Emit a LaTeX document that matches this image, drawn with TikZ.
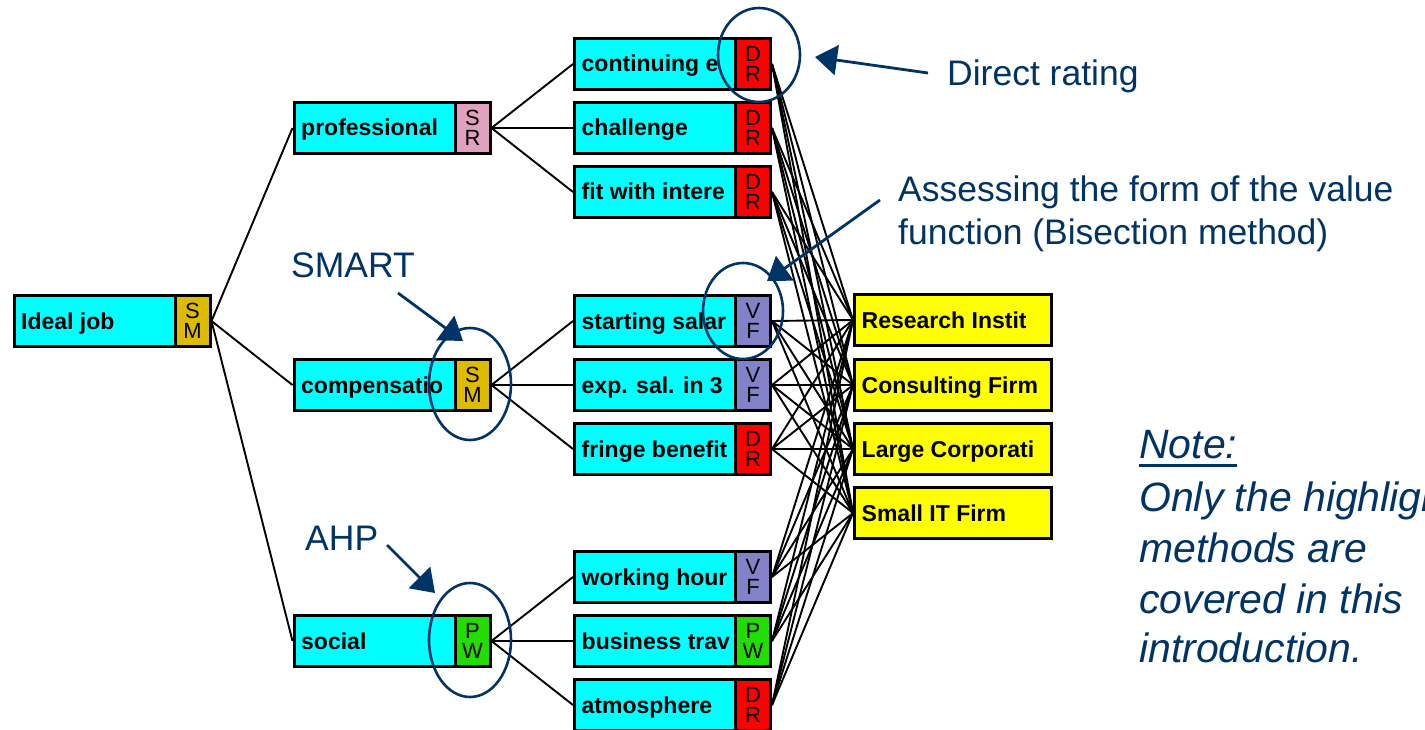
\documentclass[tikz,border=0pt]{standalone}
\usepackage{fontspec}
\setmainfont{Liberation Sans}
\usetikzlibrary{arrows.meta,shapes.geometric,calc}

\definecolor{critcyan}{RGB}{0,255,255}
\definecolor{altyellow}{RGB}{255,255,0}
\definecolor{drred}{RGB}{255,0,0}
\definecolor{smgold}{RGB}{221,187,0}
\definecolor{srpink}{RGB}{224,160,192}
\definecolor{vfblue}{RGB}{130,130,200}
\definecolor{pwgreen}{RGB}{34,221,0}
\definecolor{navy}{RGB}{0,51,102}

\newcommand\lblfont{\fontsize{23}{23}\selectfont\bfseries}
\newcommand\badgefont{\fontsize{22}{20}\selectfont}
\newcommand\annfont{\fontsize{35.5}{40}\selectfont}
\newcommand\notefont{\fontsize{41}{50}\selectfont\itshape}

\pgfdeclarelayer{wires}
\pgfsetlayers{wires,main}

% criterion box: name, centre x, centre y, label, method letters, method colour
\newcommand\critnode[6]{%
  \node[crit] (#1) at (#2,#3) {};
  \node[lbl] (#1-t) at ($(#1.west)+(8.5,8)$) {#4};
  \node[badge, fill=#6] (#1-b) at (#1.east) {#5};
}
% alternative box: name, centre x, centre y, label
\newcommand\altnode[4]{%
  \node[alt] (#1) at (#2,#3) {};
  \node[lbl] (#1-t) at ($(#1.west)+(8.5,8)$) {#4};
}

\begin{document}
\begin{tikzpicture}[x=1pt,y=-1pt,
  crit/.style={draw=black, line width=3pt, fill=critcyan, minimum width=196pt, minimum height=51pt, inner sep=0pt},
  alt/.style={crit, fill=altyellow, minimum width=197pt},
  badge/.style={draw=black, line width=3pt, minimum width=35pt, minimum height=51pt, inner sep=0pt, anchor=east, align=center, font=\badgefont},
  lbl/.style={anchor=base west, inner sep=0pt, font=\lblfont},
  wire/.style={draw=black, line width=1.9pt},
  ring/.style={ellipse, draw=navy, line width=2.6pt, inner sep=0pt},
  pointer/.style={draw=navy, line width=2.8pt, -{Triangle[length=22pt,width=30pt]}},
  ann/.style={anchor=base west, inner sep=0pt, text=navy, font=\annfont},
  note/.style={ann, font=\notefont}]

\useasboundingbox (0,0) rectangle (1425,730);
\clip (0,0) rectangle (1425,730);

% value tree
\critnode{ideal}{112}{321}{Ideal job}{S\\M}{smgold}
\critnode{prof}{392}{128}{professional}{S\\R}{srpink}
\critnode{comp}{392}{385}{compensatio}{S\\M}{smgold}
\critnode{soc}{392}{641}{social}{P\\W}{pwgreen}

\critnode{cont}{672.5}{64}{continuing e}{D\\R}{drred}
\critnode{chal}{672.5}{128}{challenge}{D\\R}{drred}
\critnode{fit}{672.5}{192}{fit with intere}{D\\R}{drred}
\critnode{start}{672.5}{321}{starting salar}{V\\F}{vfblue}
\critnode{exp}{672.5}{385}{exp. sal. in 3}{V\\F}{vfblue}
\critnode{fringe}{672.5}{449}{fringe benefit}{D\\R}{drred}
\critnode{work}{672.5}{577}{working hour}{V\\F}{vfblue}
\critnode{trav}{672.5}{641}{business trav}{P\\W}{pwgreen}
\critnode{atmos}{672.5}{705}{atmosphere}{D\\R}{drred}

% alternatives
\altnode{res}{953}{320}{Research Instit}
\altnode{cons}{953}{385}{Consulting Firm}
\altnode{large}{953}{449}{Large Corporati}
\altnode{small}{953}{513}{Small IT Firm}

% connectors, kept underneath the boxes
\begin{pgfonlayer}{wires}
  \fill[white] (0,0) rectangle (1425,730);
  \foreach \p/\c in {ideal/prof, ideal/comp, ideal/soc,
                     prof/cont, prof/chal, prof/fit,
                     comp/start, comp/exp, comp/fringe,
                     soc/work, soc/trav, soc/atmos}
    \draw[wire] (\p.east) -- (\c.west);
  \foreach \l in {cont, chal, fit, start, exp, fringe, work, trav, atmos}
    \foreach \a in {res, cons, large, small}
      \draw[wire] (\l.east) -- (\a.west);
\end{pgfonlayer}

% method highlights
\node[ring, minimum width=82pt, minimum height=94pt] (ring-dr) at (759,55) {};
\node[ring, minimum width=80pt, minimum height=96pt] (ring-vf) at (743,311) {};
\node[ring, minimum width=82pt, minimum height=112pt] (ring-sm) at (470,384) {};
\node[ring, minimum width=82pt, minimum height=114pt] (ring-pw) at (470,640) {};

% annotations
\node[ann] (t-dr) at (947,86) {Direct rating};
\node[ann] (t-vf1) at (898,202) {Assessing the form of the value};
\node[ann] (t-vf2) at (898,245) {function (Bisection method)};
\node[ann] (t-sm) at (291,277) {SMART};
\node[ann] (t-pw) at (305,550) {AHP};

\coordinate (dr-from) at (928,73);
\coordinate (dr-to) at (815,57);
\coordinate (vf-from) at (880,200);
\coordinate (vf-to) at (767,281);
\coordinate (sm-from) at (398,293);
\coordinate (sm-to) at (463,341);
\coordinate (pw-from) at (387,545);
\coordinate (pw-to) at (435,593);
\draw[pointer] (dr-from) -- (dr-to);
\draw[pointer] (vf-from) -- (vf-to);
\draw[pointer] (sm-from) -- (sm-to);
\draw[pointer] (pw-from) -- (pw-to);

% note
\node[note] (n0) at (1139,458) {Note:};
\draw[navy, line width=3pt] ($(n0.base west)+(0,7)$) -- ($(n0.base east)+(0,7)$);
\node[note] (n1) at (1139,511) {Only the highlighted};
\node[note] (n2) at (1139,562) {methods are};
\node[note] (n3) at (1139,613) {covered in this};
\node[note] (n4) at (1139,662) {introduction.};
\end{tikzpicture}
\end{document}
